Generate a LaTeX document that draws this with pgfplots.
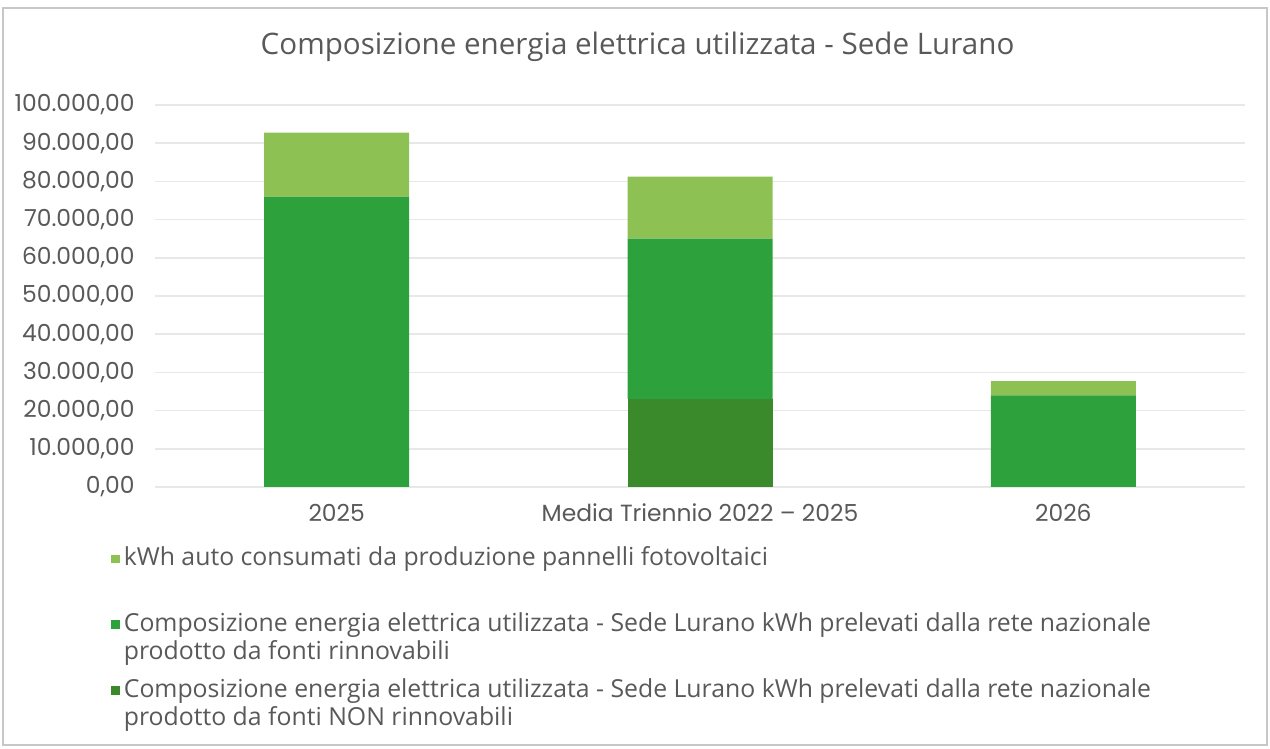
\documentclass[border=0pt]{standalone}
\usepackage{pgfplots}
\pgfplotsset{compat=1.18}
\usepackage{fontspec}
\setmainfont{Open Sans}
\newfontfamily\tickfont{Poppins}

\definecolor{pv}{HTML}{8DC153}
\definecolor{rinn}{HTML}{2DA13B}
\definecolor{nonrinn}{HTML}{3A8A2C}
\definecolor{txt}{HTML}{595959}
\definecolor{gridc}{HTML}{E8E8E8}

\begin{document}
\begin{tikzpicture}
% 1 px of the reference = 0.5pt; axis lower-left corner at (155px, 487px)
\path[use as bounding box] (-77.5pt,-131pt) rectangle (557.5pt,243.5pt);
\draw[black!22, line width=0.7pt] (-76pt,-129pt) rectangle (556pt,239.5pt);
\begin{axis}[
    at={(0,0)}, anchor=south west,
    scale only axis,
    width=545pt, height=191pt,
    ybar stacked,
    bar width=72.5pt,
    xmin=-0.5, xmax=2.5,
    xtick=data,
    xticklabels={2025, Media Triennio 2022 – 2025, 2026},
    ymin=0, ymax=100000,
    ytick={0,10000,...,100000},
    scaled y ticks=false,
    ymajorgrids,
    grid style={gridc, line width=0.8pt},
    axis line style={draw=none},
    major tick length=0pt,
    /pgf/number format/assume math mode=true,
    yticklabel style={/pgf/number format/.cd, fixed, fixed zerofill, precision=2, use comma, 1000 sep={.},
        /tikz/.cd, anchor=east, inner sep=0pt, xshift=-10pt, text=txt,
        font=\tickfont\fontsize{11.7}{13}\selectfont},
    xticklabel style={anchor=base, inner sep=0pt, yshift=-17pt, text=txt,
        font=\tickfont\fontsize{11.7}{13}\selectfont},
    title={Composizione energia elettrica utilizzata - Sede Lurano},
    title style={at={(axis description cs:0.4427,1.102)}, anchor=base, inner sep=0pt,
        text=txt, font=\fontsize{14.8}{17}\selectfont},
    legend style={at={(axis description cs:-0.046,-0.134)}, anchor=north west,
        draw=none, fill=none, text=txt, font=\fontsize{12.4}{14}\selectfont,
        cells={anchor=base west, align=left}, row sep=4pt,
        /tikz/every even column/.append style={column sep=3pt}},
    reverse legend,
    legend image code/.code={\fill[#1] (0pt,15.2pt) rectangle (4.3pt,19.5pt);},
]
\addplot+[draw=none, fill=nonrinn] coordinates {(0,0) (1,23100) (2,0)};
\addplot+[draw=none, fill=rinn] coordinates {(0,76000) (1,41900) (2,24000)};
\addplot+[draw=none, fill=pv] coordinates {(0,16800) (1,16250) (2,3700)};
\legend{{Composizione energia elettrica utilizzata - Sede Lurano kWh prelevati dalla rete nazionale\\prodotto da fonti NON rinnovabili},
        {Composizione energia elettrica utilizzata - Sede Lurano kWh prelevati dalla rete nazionale\\prodotto da fonti rinnovabili},
        {kWh auto consumati da produzione pannelli fotovoltaici\\\strut}}
\end{axis}
\end{tikzpicture}
\end{document}
